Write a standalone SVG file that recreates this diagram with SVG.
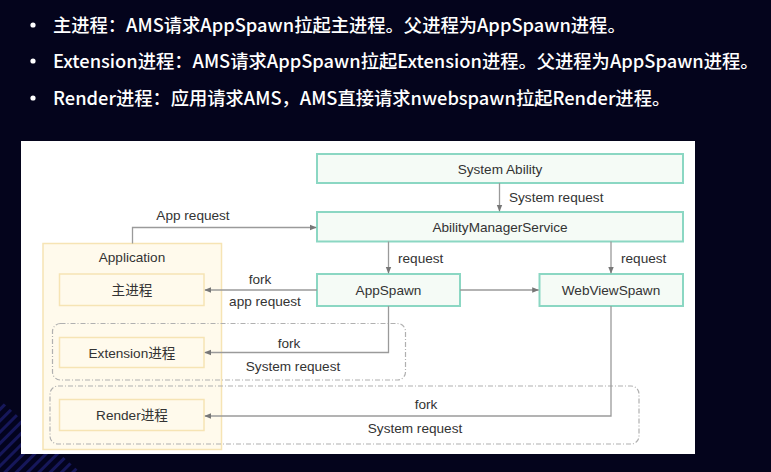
<svg xmlns="http://www.w3.org/2000/svg" width="771" height="472" viewBox="0 0 771 472">
<defs>
<style>
.bul{font-family:"Noto Sans CJK SC","Noto Sans",sans-serif;font-size:18.3px;font-weight:500;fill:#ffffff}
.t{font-family:"Liberation Sans",Arial,"Noto Sans CJK SC",sans-serif;font-size:13.6px;fill:#333333}
.g{fill:#f5fbf6;stroke:#8bd7c3;stroke-width:2}
.y{fill:#fffaec;stroke:#f6e4b4;stroke-width:1.5}
.c{fill:none;stroke:#9a9a9a;stroke-width:1.3}
.d{fill:none;stroke:#b0b0b0;stroke-width:1.2;stroke-dasharray:5 2 1 2}
</style>
<marker id="ah" viewBox="0 0 10 10" refX="9" refY="5" markerWidth="7" markerHeight="7" orient="auto" markerUnits="userSpaceOnUse">
<path d="M0,1 L10,5 L0,9 z" fill="#777777"/>
</marker>
<pattern id="st" width="8" height="8" patternUnits="userSpaceOnUse" patternTransform="rotate(45)">
<rect width="8" height="8" fill="#03031e"/>
<rect width="3" height="8" fill="#16175a"/>
</pattern>
</defs>
<rect width="771" height="472" fill="#04041c"/>
<path d="M0,400 L0,472 L80,472 Z" fill="url(#st)"/>
<g id="bullets">
<circle cx="33" cy="25" r="2.6" fill="#ffffff"/>
<text class="bul" x="53" y="32">主进程：AMS请求AppSpawn拉起主进程。父进程为AppSpawn进程。</text>
<circle cx="33" cy="61" r="2.6" fill="#ffffff"/>
<text class="bul" x="53" y="68">Extension进程：AMS请求AppSpawn拉起Extension进程。父进程为AppSpawn进程。</text>
<circle cx="33" cy="98" r="2.6" fill="#ffffff"/>
<text class="bul" x="53" y="105">Render进程：应用请求AMS，AMS直接请求nwebspawn拉起Render进程。</text>
</g>
<rect x="21" y="141" width="674" height="313" fill="#ffffff"/>
<g id="application">
<rect class="y" x="43" y="243.5" width="178.5" height="206"/>
<text class="t" x="132" y="261.5" text-anchor="middle">Application</text>
</g>
<g id="groups">
<rect class="d" x="52.5" y="323.5" width="353" height="56.5" rx="8"/>
<rect class="d" x="50" y="386" width="589" height="58" rx="8"/>
</g>
<g id="main-process">
<rect class="y" x="59.5" y="274" width="144.5" height="31.5"/>
<text class="t" x="132" y="294.5" text-anchor="middle">主进程</text>
</g>
<g id="extension-process">
<rect class="y" x="59.5" y="337.5" width="144.5" height="30"/>
<text class="t" x="132" y="357.5" text-anchor="middle">Extension进程</text>
</g>
<g id="render-process">
<rect class="y" x="59.5" y="399.5" width="144.5" height="31"/>
<text class="t" x="132" y="419.5" text-anchor="middle">Render进程</text>
</g>
<g id="system-ability">
<rect class="g" x="317" y="154" width="366" height="29"/>
<text class="t" x="500" y="173.5" text-anchor="middle">System Ability</text>
</g>
<g id="ams">
<rect class="g" x="317" y="212" width="366" height="29.5"/>
<text class="t" x="500" y="232" text-anchor="middle">AbilityManagerService</text>
</g>
<g id="appspawn">
<rect class="g" x="317" y="274" width="143" height="32"/>
<text class="t" x="388.5" y="295" text-anchor="middle">AppSpawn</text>
</g>
<g id="webviewspawn">
<rect class="g" x="539.5" y="274" width="143.5" height="32"/>
<text class="t" x="611" y="295" text-anchor="middle">WebViewSpawn</text>
</g>
<g id="connectors">
<path class="c" d="M499.5,183 L499.5,211" marker-end="url(#ah)"/>
<text class="t" x="509" y="201.5">System request</text>
<path class="c" d="M132.5,243.5 L132.5,227.5 L316,227.5" marker-end="url(#ah)"/>
<text class="t" x="193" y="219.5" text-anchor="middle">App request</text>
<path class="c" d="M388.5,241.5 L388.5,273" marker-end="url(#ah)"/>
<text class="t" x="398" y="262.5">request</text>
<path class="c" d="M611,241.5 L611,273" marker-end="url(#ah)"/>
<text class="t" x="621" y="262.5">request</text>
<path class="c" d="M317,290 L205,290" marker-end="url(#ah)"/>
<text class="t" x="260" y="283.5" text-anchor="middle">fork</text>
<text class="t" x="265" y="305.5" text-anchor="middle">app request</text>
<path class="c" d="M460,290 L538.5,290" marker-end="url(#ah)"/>
<path class="c" d="M388.5,306 L388.5,352.5 L205,352.5" marker-end="url(#ah)"/>
<text class="t" x="289" y="347.5" text-anchor="middle">fork</text>
<text class="t" x="293" y="370.5" text-anchor="middle">System request</text>
<path class="c" d="M611,306 L611,416 L205,416" marker-end="url(#ah)"/>
<text class="t" x="426" y="408.5" text-anchor="middle">fork</text>
<text class="t" x="415" y="432.5" text-anchor="middle">System request</text>
</g>
</svg>
